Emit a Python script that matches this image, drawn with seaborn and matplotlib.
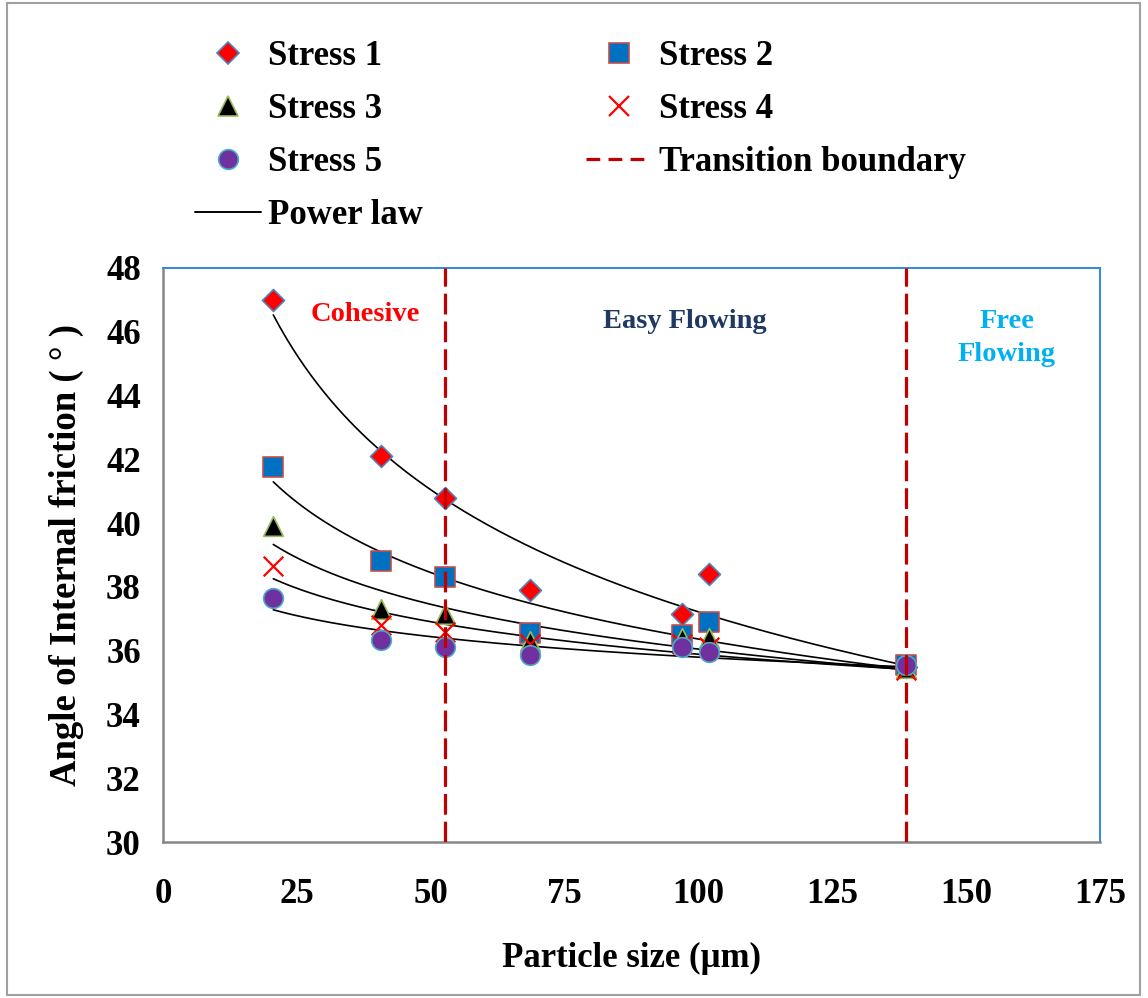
import numpy as np
import pandas as pd
import matplotlib
matplotlib.use("Agg")
import matplotlib.pyplot as plt
import seaborn as sns
from matplotlib.lines import Line2D
from matplotlib.patches import Rectangle

# ---------------- data ----------------
particle_size = [20.6, 40.8, 52.7, 68.6, 97.0, 102.0, 138.8]
stress1 = [47.0, 42.1, 40.8, 37.9, 37.15, 38.4, 35.5]
stress2 = [41.75, 38.8, 38.3, 36.55, 36.5, 36.9, 35.55]
stress3 = [39.9, 37.3, 37.15, 36.3, 36.4, 36.4, 35.45]
stress4 = [38.65, 36.8, 36.6, 36.2, 36.2, 36.1, 35.4]
stress5 = [37.65, 36.35, 36.1, 35.85, 36.1, 35.95, 35.55]
series_names = ["Stress 1", "Stress 2", "Stress 3", "Stress 4", "Stress 5"]
boundaries = [52.7, 138.8]
x_ticks = [0, 25, 50, 75, 100, 125, 150, 175]
y_ticks = [30, 32, 34, 36, 38, 40, 42, 44, 46, 48]

# ---------------- style ----------------
sns.set_theme(style="white")
plt.rcParams["font.family"] = ["Liberation Serif", "DejaVu Serif"]
plt.rcParams["font.weight"] = "bold"
for k in ["text.color", "axes.labelcolor", "xtick.color", "ytick.color"]:
    plt.rcParams[k] = "black"

styles = {
    "Stress 1": dict(marker="D", s=125, color="#FF0000", edgecolor="#4F81BD", lw=1.2),
    "Stress 2": dict(marker="s", s=200, color="#0070C0", edgecolor="#C0504D", lw=1.2),
    "Stress 3": dict(marker="^", s=200, color="#000000", edgecolor="#9BBB59", lw=1.2),
    "Stress 4": dict(marker="x", s=200, color="#FF0000", edgecolor="#FF0000", lw=1.6),
    "Stress 5": dict(marker="o", s=200, color="#7030A0", edgecolor="#4BACC6", lw=1.2),
}

fig = plt.figure(figsize=(11.48, 9.98), dpi=100)
ax = fig.add_axes([0.142, 0.1563, 0.816, 0.5752])

all_series = [stress1, stress2, stress3, stress4, stress5]
for name, vals in zip(series_names, all_series):
    df = pd.DataFrame({"x": particle_size, "y": vals})
    st = styles[name]
    if st["marker"] == "x":
        sns.scatterplot(data=df, x="x", y="y", ax=ax, marker="x", s=st["s"],
                        color=st["color"], linewidth=st["lw"], zorder=3, legend=False)
    else:
        sns.scatterplot(data=df, x="x", y="y", ax=ax, marker=st["marker"], s=st["s"],
                        color=st["color"], edgecolor=st["edgecolor"], linewidth=st["lw"],
                        zorder=3, legend=False)

# power-law trend lines fitted to each series
xs = np.linspace(min(particle_size), max(particle_size), 200)
for vals in all_series:
    b, loga = np.polyfit(np.log(particle_size), np.log(vals), 1)
    fit = pd.DataFrame({"x": xs, "y": np.exp(loga) * xs ** b})
    sns.lineplot(data=fit, x="x", y="y", ax=ax, color="black", linewidth=1.2, zorder=2)

for bx in boundaries:
    ax.axvline(bx, color="#C00000", linewidth=2.3, dashes=(6.5, 2.2), zorder=4)

ax.set_xlim(0, 175)
ax.set_ylim(30, 48)
ax.set_xticks(x_ticks)
ax.set_yticks(y_ticks)
ax.tick_params(axis="both", length=0, labelsize=25, colors="black")
ax.tick_params(axis="x", pad=26)
ax.tick_params(axis="y", pad=16)
for lab in ax.get_xticklabels() + ax.get_yticklabels():
    lab.set_fontweight("bold")

ax.set_xlabel("Particle size (µm)", fontsize=25, fontweight="bold", labelpad=22, color="black")
ax.set_ylabel("Angle of Internal friction ( ° )", fontsize=26.5, fontweight="bold",
              labelpad=16, color="black")

for side in ["left", "bottom"]:
    ax.spines[side].set_color("#868686")
    ax.spines[side].set_linewidth(1.8)
for side in ["top", "right"]:
    ax.spines[side].set_color("#2E8BD6")
    ax.spines[side].set_linewidth(1.4)

ax.text(37.7, 46.53, "Cohesive", color="#FF0000", fontsize=20.5, fontweight="bold",
        ha="center", va="center")
ax.text(97.5, 46.31, "Easy Flowing", color="#1F3864", fontsize=20.5, fontweight="bold",
        ha="center", va="center")
ax.text(157.6, 45.8, "Free\nFlowing", color="#00B0F0", fontsize=20.5, fontweight="bold",
        ha="center", va="center", linespacing=1.4)

# legend
def mk(name):
    st = styles[name]
    ms = np.sqrt(st["s"])
    if st["marker"] == "x":
        return Line2D([], [], linestyle="none", marker="x", markersize=ms,
                      color=st["color"], markeredgewidth=st["lw"], label=name)
    return Line2D([], [], linestyle="none", marker=st["marker"], markersize=ms,
                  markerfacecolor=st["color"], markeredgecolor=st["edgecolor"],
                  markeredgewidth=st["lw"], label=name)

h_power = Line2D([], [], color="black", linewidth=1.4, label="Power law")
h_trans = Line2D([], [], color="#C00000", linewidth=2.3, dashes=(4.3, 2.6),
                 label="Transition boundary")
handles = [mk("Stress 1"), mk("Stress 3"), mk("Stress 5"), h_power,
           mk("Stress 2"), mk("Stress 4"), h_trans]
leg = fig.legend(handles=handles, ncol=2, loc="upper left",
                 bbox_to_anchor=(195 / 1148, 1 - 40 / 998), frameon=False,
                 prop={"family": "Liberation Serif", "weight": "bold", "size": 25},
                 handlelength=1.9, handletextpad=0.2, columnspacing=4.7,
                 labelspacing=0.58, borderpad=0, borderaxespad=0)
for t in leg.get_texts():
    t.set_color("black")

fig.patches.append(Rectangle((7 / 1148, 3 / 998), 1133 / 1148, 992 / 998,
                             transform=fig.transFigure, fill=False,
                             edgecolor="#A0A0A0", linewidth=1.5))

fig.savefig("out.png", dpi=100)
